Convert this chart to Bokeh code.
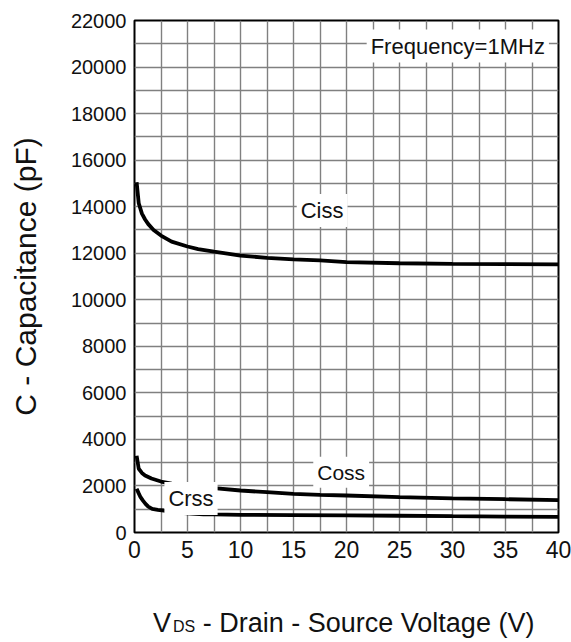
from bokeh.plotting import figure
from bokeh.models import FixedTicker, Label, Range1d, Div
from bokeh.layouts import column
from bokeh.embed import file_html
from bokeh.resources import INLINE

# ---- data ----
vds_ciss = [0.2, 0.4, 0.7, 1.0, 1.3, 1.8, 2.5, 3.5, 5, 6, 7.5, 10, 12.5, 15, 17.5, 20, 25, 30, 35, 40]
ciss = [15050, 14150, 13700, 13450, 13250, 13000, 12760, 12500, 12290, 12180, 12070, 11900,
        11800, 11740, 11690, 11620, 11570, 11545, 11530, 11520]

vds_coss = [0.2, 0.4, 0.7, 1.0, 1.6, 2.5, 3.5, 5, 7.5, 10, 12.5, 15, 17.5, 20, 25, 30, 35, 40]
coss = [3300, 2740, 2560, 2450, 2320, 2190, 2100, 2020, 1905, 1805, 1733, 1662, 1619,
        1590, 1517, 1470, 1430, 1395]

vds_crss = [0.2, 0.4, 0.57, 0.8, 1.04, 1.3, 1.67, 2.2, 2.77, 4, 5, 6.5, 7.5, 10, 15, 20, 25, 30, 35, 40]
crss = [1880, 1680, 1517, 1370, 1232, 1110, 1017, 975, 945, 860, 820, 785, 775, 760, 750,
        735, 720, 700, 685, 668]

x_ticks = [0, 5, 10, 15, 20, 25, 30, 35, 40]
x_grid = [2.5, 7.5, 12.5, 17.5, 22.5, 27.5, 32.5, 37.5]
y_ticks = [0, 2000, 4000, 6000, 8000, 10000, 12000, 14000, 16000, 18000, 20000, 22000]
y_grid = [1000, 3000, 5000, 7000, 9000, 11000, 13000, 15000, 17000, 19000, 21000]

FONT = "Liberation Sans"

p = figure(width=571, height=572, x_range=Range1d(0, 40), y_range=Range1d(0, 22000),
           output_backend="svg", toolbar_location=None, title=None,
           min_border_left=134, min_border_right=13, min_border_top=20, min_border_bottom=40)

p.background_fill_color = "white"
p.border_fill_color = "white"
p.outline_line_color = "black"
p.outline_line_width = 2

p.xaxis.ticker = FixedTicker(ticks=x_ticks, minor_ticks=x_grid)
p.yaxis.ticker = FixedTicker(ticks=y_ticks, minor_ticks=y_grid)

for ax in (p.xaxis[0], p.yaxis[0]):
    ax.axis_line_color = None
    ax.major_tick_line_color = None
    ax.minor_tick_line_color = None
    ax.major_tick_out = 0
    ax.major_tick_in = 0
    ax.minor_tick_out = 0
    ax.minor_tick_in = 0
    ax.major_label_text_font = FONT
    ax.major_label_text_color = "#111111"

p.xaxis.major_label_text_font_size = "23px"
p.xaxis.major_label_standoff = 8
p.yaxis.major_label_text_font_size = "20px"
p.yaxis.major_label_standoff = 8

p.yaxis.axis_label = "C - Capacitance (pF)"
p.yaxis.axis_label_text_font = FONT
p.yaxis.axis_label_text_font_size = "30px"
p.yaxis.axis_label_text_font_style = "normal"
p.yaxis.axis_label_text_color = "#111111"
p.yaxis.axis_label_standoff = 26

for g in (p.xgrid[0], p.ygrid[0]):
    g.grid_line_color = "#808080"
    g.grid_line_width = 1.4
    g.minor_grid_line_color = "#808080"
    g.minor_grid_line_width = 1.4

p.line(vds_ciss, ciss, line_color="black", line_width=3.8)
p.line(vds_coss, coss, line_color="black", line_width=3.8)
p.line(vds_crss, crss, line_color="black", line_width=3.8)

def tag(text, x, y, size="22px"):
    p.add_layout(Label(x=x, y=y, text=text, text_font=FONT, text_font_size=size,
                       text_color="#111111", text_align="center", text_baseline="middle",
                       background_fill_color="white", padding=4))

tag("Frequency=1MHz", 30.5, 20900)
tag("Ciss", 17.7, 13840)
tag("Coss", 19.5, 2590, "21px")
tag("Crss", 5.33, 1460)

xlabel = Div(
    text=('<div style="font-family:\'Liberation Sans\';font-size:27px;color:#111111;'
          'line-height:31px;padding-top:36px;padding-left:153px;white-space:nowrap;">'
          'V<span style="font-size:16px;margin-left:2px;">DS</span> - Drain - Source Voltage (V)</div>'),
    width=571, height=68, margin=(0, 0, 0, 0))

layout = column(p, xlabel, spacing=0)

open("out.html", "w").write(file_html(layout, INLINE))
